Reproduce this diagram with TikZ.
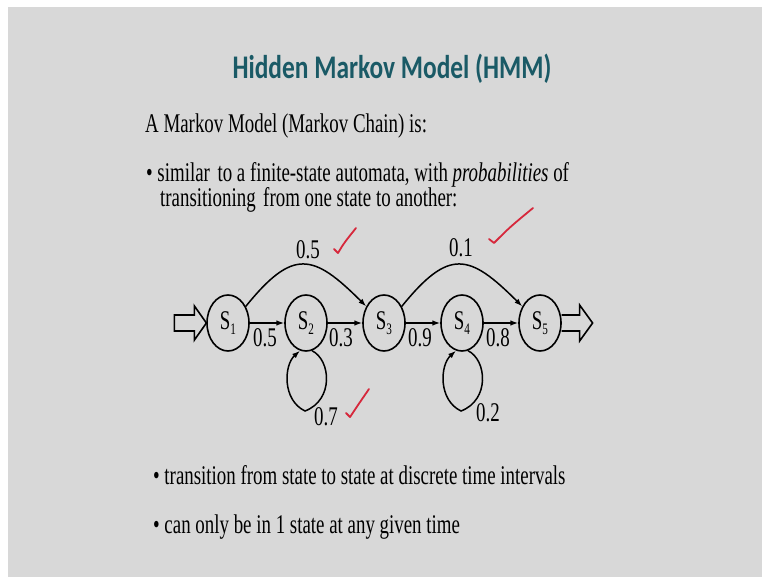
\documentclass[tikz,border=0pt]{standalone}
\usepackage{fontspec}
\usepackage{graphicx}
\setmainfont{Liberation Serif}
\newfontfamily\titlefont{Carlito}
\usetikzlibrary{arrows.meta}
\definecolor{slidegrey}{RGB}{216,216,216}
\definecolor{titleteal}{RGB}{26,90,102}
\definecolor{tickred}{RGB}{214,40,60}
\newcommand{\stlabel}[1]{\scalebox{0.93}[1]{S\raisebox{-5pt}{\fontsize{16}{16}\selectfont #1}}}

\begin{document}
\begin{tikzpicture}[x=1pt,y=1pt,
  txt/.style={anchor=base west, inner sep=0, xscale=0.70, font=\fontsize{27}{30}\selectfont},
  prob/.style={inner sep=0, xscale=0.70, font=\fontsize{27}{30}\selectfont},
  state/.style={circle, draw, line width=1.6pt, minimum size=56pt, inner sep=0,
                xscale=0.75, font=\fontsize{27}{30}\selectfont},
  trans/.style={line width=1.5pt, -{Latex[length=8pt,width=5.5pt]}},
  blockarrow/.style={line width=1.6pt, line join=miter},
  tick/.style={tickred, line width=1.8pt, line cap=round, line join=round}]

% page and slide background
\useasboundingbox (0,0) rectangle (762,-577);
\fill[white] (0,0) rectangle (762,-577);
\fill[slidegrey] (8,-7) rectangle (762,-577);

% title
\node[titleteal, inner sep=0, anchor=base, xscale=0.77,
      font=\titlefont\bfseries\fontsize{33}{36}\selectfont] (title) at (392,-79)
  {Hidden Markov Model (HMM)};

% introductory text
\node[txt] (intro) at (145,-133) {A Markov Model (Markov Chain) is:};
\node[txt] (b1a) at (146,-182) {\textbullet\ similar\hspace{4pt} to a finite-state automata, with \textit{probabilities} of};
\node[txt] (b1b) at (160,-207) {transitioning\hspace{4pt} from one state to another:};

% states
\node[state] (s1) at (228,-323) {\stlabel{1}};
\node[state] (s2) at (306,-323) {\stlabel{2}};
\node[state] (s3) at (384,-323) {\stlabel{3}};
\node[state] (s4) at (462,-323) {\stlabel{4}};
\node[state] (s5) at (540,-323) {\stlabel{5}};

% start and end block arrows
\draw[blockarrow, shift={(s1.west)}]
  (-32,8) -- (-12,8) -- (-12,17) -- (0,0) -- (-12,-17) -- (-12,-8) -- (-32,-8) -- cycle;
\draw[blockarrow, shift={(s5.east)}]
  (0,8) -- (18,8) -- (18,18) -- (31,0) -- (18,-18) -- (18,-8) -- (0,-8);

% forward transitions
\draw[trans] (s1.east) -- (s2.west);
\draw[trans] (s2.east) -- (s3.west);
\draw[trans] (s3.east) -- (s4.west);
\draw[trans] (s4.east) -- (s5.west);

% skip transitions
\draw[trans] (s1.35) to[out=51, in=135, looseness=1.6] (s3.145);
\draw[trans] (s3.35) to[out=51, in=135, looseness=1.6] (s5.145);

% self loops
\coordinate (l2) at (305,-411);
\coordinate (l4) at (461,-411);
\draw[trans] (s2.-74) .. controls (331,-360) and (334,-400) .. (l2)
             .. controls (282,-400) and (284,-365) .. (s2.-106);
\draw[trans] (s4.-74) .. controls (487,-360) and (490,-400) .. (l4)
             .. controls (438,-400) and (440,-365) .. (s4.-106);

% transition probabilities
\node[prob] (p12) at (265,-338) {0.5};
\node[prob] (p23) at (341,-338) {0.3};
\node[prob] (p34) at (420,-338) {0.9};
\node[prob] (p45) at (498,-338) {0.8};
\node[prob] (p13) at (308,-250) {0.5};
\node[prob] (p35) at (461,-248) {0.1};
\node[prob] (p22) at (326,-417) {0.7};
\node[prob] (p44) at (488,-413) {0.2};

% hand-drawn ticks
\draw[tick] (334,-249) -- (338,-253) .. controls (344,-243) .. (356,-228);
\draw[tick] (489,-239) -- (494,-243) .. controls (510,-227) .. (533,-208);
\draw[tick] (346,-413) -- (350,-417) .. controls (358,-405) .. (369,-389);

% remaining bullets
\node[txt] (b2) at (153,-484) {\textbullet\ transition from state to state at discrete time intervals};
\node[txt] (b3) at (153,-533) {\textbullet\ can only be in 1 state at any given time};
\end{tikzpicture}
\end{document}
